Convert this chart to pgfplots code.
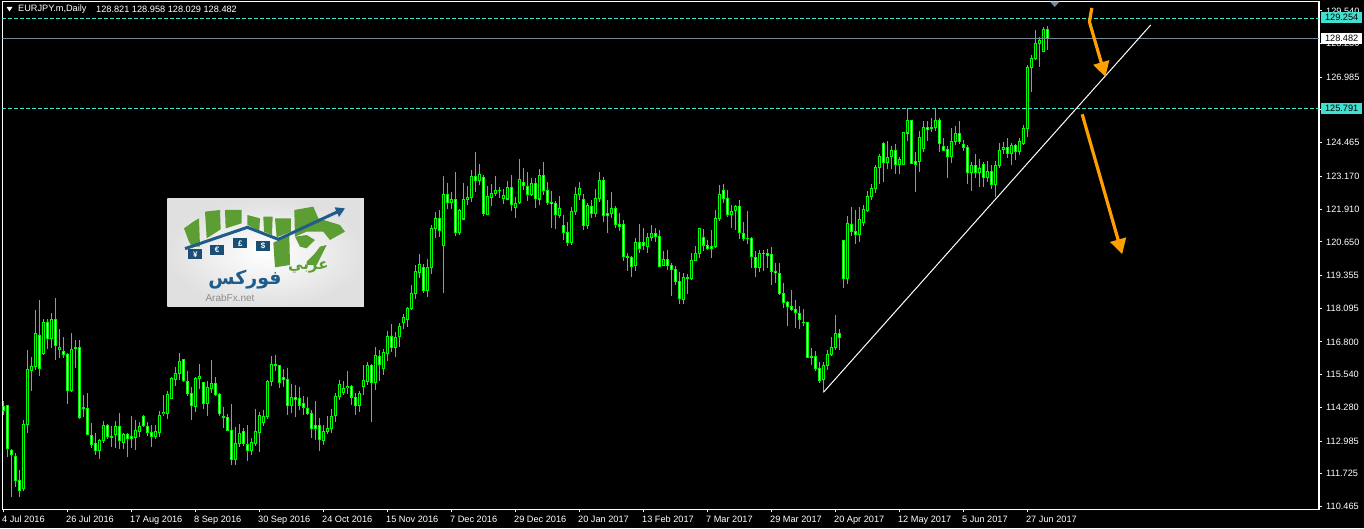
\documentclass[border=0pt]{standalone}
\usepackage{fontspec}
\usepackage{pgfplots}
\usepackage{pgfplotstable}
\pgfplotsset{compat=1.18}
\usetikzlibrary{arrows.meta}
\setmainfont{Liberation Sans}
\newfontfamily\arabicfont[Script=Arabic]{DejaVu Sans}
\TeXXeTstate=1

\definecolor{candle}{HTML}{00FF00}
\definecolor{tagc}{HTML}{40E0D0}
\definecolor{slate}{HTML}{778899}
\definecolor{arrowc}{HTML}{FFA000}
\definecolor{logogreen}{HTML}{5C9E33}
\definecolor{logoblue}{HTML}{1F5C8A}

% daily candles: i open high low close
\pgfplotstableread{
i o h l c
0 114.34 114.54 113.99 114.16
1 114.35 114.38 112.39 112.67
2 112.64 112.67 110.82 112.44
3 112.39 112.54 111.23 111.46
4 111.46 111.87 110.85 111.08
5 111.16 113.80 111.08 113.64
6 113.62 116.47 113.29 115.75
7 115.70 116.21 114.93 115.85
8 115.85 118.03 115.70 117.13
9 117.06 118.42 115.47 115.75
10 116.36 117.67 116.30 117.57
11 117.57 117.67 116.54 116.93
12 116.93 117.90 116.56 117.67
13 117.67 118.48 116.11 116.67
14 116.51 117.29 116.20 116.60
15 116.44 116.98 116.17 116.31
16 116.34 116.39 114.41 114.93
17 114.93 117.13 114.89 116.52
18 116.60 116.88 115.80 116.54
19 116.60 116.88 113.85 113.90
20 114.29 114.75 113.90 114.24
21 114.25 114.83 113.21 113.23
22 113.21 113.67 112.70 112.85
23 112.90 113.29 112.45 112.62
24 112.62 113.06 112.31 113.03
25 112.98 113.75 112.90 113.59
26 113.59 113.64 113.06 113.16
27 113.17 113.57 112.77 113.12
28 113.21 113.75 112.70 113.56
29 113.56 114.05 112.67 112.98
30 112.93 113.29 112.67 113.26
31 113.25 113.29 112.36 113.08
32 113.17 113.95 112.71 113.08
33 113.13 113.80 112.64 113.41
34 113.36 113.70 113.16 113.57
35 113.95 113.99 113.52 113.57
36 113.56 113.73 113.18 113.31
37 113.31 113.61 112.75 113.16
38 113.16 113.61 113.06 113.36
39 113.31 114.16 113.13 113.99
40 114.04 114.74 113.95 114.11
41 114.04 114.90 113.85 114.79
42 114.62 115.44 114.59 115.42
43 115.36 115.83 115.11 115.59
44 115.57 116.36 115.34 116.06
45 116.13 116.13 115.26 115.29
46 115.29 115.67 114.70 114.80
47 114.83 115.08 113.80 114.36
48 114.31 115.44 114.12 115.42
49 115.39 115.95 115.00 115.48
50 115.25 115.26 114.21 114.43
51 114.43 115.31 113.93 115.06
52 115.00 116.11 114.83 115.21
53 115.21 115.44 114.70 114.75
54 114.80 114.83 113.93 114.05
55 113.93 114.29 113.47 113.88
56 113.90 114.03 113.39 113.39
57 113.41 114.41 112.08 112.26
58 112.26 113.54 112.08 112.90
59 112.88 113.64 112.77 113.29
60 113.36 113.48 112.80 112.88
61 112.86 113.59 112.23 112.62
62 112.62 113.11 112.46 112.95
63 112.88 114.23 112.80 113.36
64 113.31 114.11 112.58 113.98
65 113.70 114.18 113.58 113.95
66 113.93 115.34 113.82 115.29
67 115.26 116.26 115.11 115.93
68 115.89 116.29 115.67 115.94
69 115.90 115.91 115.04 115.21
70 115.44 115.75 115.08 115.36
71 115.36 115.79 114.00 114.36
72 114.36 115.18 114.05 114.67
73 114.67 115.16 113.90 114.59
74 114.62 115.06 114.18 114.36
75 114.44 114.70 114.00 114.25
76 114.23 114.67 113.98 114.05
77 114.05 114.18 113.11 113.46
78 113.59 114.52 113.03 113.46
79 113.59 113.88 112.62 113.05
80 112.98 113.59 112.85 113.36
81 113.34 113.93 113.26 113.48
82 113.46 114.23 113.29 113.94
83 113.95 114.85 113.70 114.72
84 114.70 115.34 114.57 115.17
85 114.85 115.29 114.75 115.02
86 115.02 115.68 114.80 115.09
87 115.11 115.15 114.36 114.67
88 114.66 114.82 114.00 114.36
89 114.35 114.90 114.11 114.82
90 115.08 115.90 114.75 115.33
91 115.26 116.03 115.16 115.90
92 115.90 115.95 113.70 115.24
93 115.24 116.60 114.95 116.29
94 116.26 116.49 115.31 115.93
95 115.75 116.54 115.53 116.40
96 116.36 117.21 116.08 117.01
97 117.01 117.49 116.43 116.57
98 116.58 117.19 116.21 116.98
99 116.98 117.52 116.60 117.42
100 117.52 117.88 117.29 117.75
101 117.67 118.13 117.36 118.11
102 118.08 118.99 118.03 118.67
103 118.67 119.76 118.47 119.52
104 119.47 120.19 119.26 119.79
105 119.67 119.80 118.70 118.78
106 118.78 119.98 118.54 119.67
107 119.67 121.30 119.42 121.17
108 121.16 121.80 120.80 121.56
109 121.56 121.88 120.83 121.06
110 120.51 123.19 118.70 122.48
111 122.48 122.93 121.90 122.17
112 122.14 122.57 121.93 122.29
113 122.29 123.34 120.88 121.01
114 121.01 121.90 120.92 121.87
115 121.52 122.93 121.52 122.29
116 122.28 122.80 122.07 122.37
117 122.33 123.42 122.20 123.18
118 123.18 124.11 122.55 123.01
119 123.01 123.65 122.82 123.25
120 123.14 123.23 121.65 121.75
121 121.71 122.80 121.69 122.39
122 122.35 122.88 122.03 122.52
123 122.51 123.19 122.43 122.64
124 122.62 122.78 122.33 122.65
125 122.32 122.67 122.11 122.44
126 122.29 122.98 122.26 122.75
127 122.75 123.23 121.82 122.06
128 121.97 122.39 121.57 122.14
129 122.14 123.84 122.11 123.06
130 122.94 123.50 122.65 122.82
131 122.78 123.34 122.24 122.47
132 122.47 123.12 122.42 122.91
133 122.91 123.11 121.96 122.32
134 122.29 123.46 122.08 123.21
135 123.21 123.73 122.46 122.62
136 122.62 122.96 122.08 122.16
137 122.19 122.62 121.19 122.12
138 122.14 122.24 121.13 121.70
139 121.66 122.42 121.57 121.94
140 121.29 121.69 120.73 121.01
141 121.02 121.42 120.49 120.62
142 120.62 122.01 120.53 121.84
143 121.82 122.78 121.69 122.48
144 122.48 122.96 122.26 122.71
145 122.29 122.48 121.11 121.28
146 121.28 122.14 121.13 122.06
147 122.02 122.26 121.57 121.75
148 121.74 122.67 121.60 122.32
149 122.32 123.32 122.19 123.02
150 123.02 123.16 121.43 121.66
151 121.75 122.26 121.01 121.66
152 121.75 122.55 121.56 121.94
153 121.94 122.03 121.17 121.30
154 121.33 121.78 121.05 121.24
155 121.33 121.50 119.93 120.08
156 120.08 120.21 119.51 120.04
157 120.06 120.11 119.31 119.70
158 119.74 120.79 119.51 120.64
159 120.64 121.34 120.21 120.39
160 120.64 121.17 120.34 120.51
161 120.47 120.98 120.21 120.81
162 120.80 121.30 120.69 120.98
163 120.98 121.17 120.66 120.85
164 120.87 121.11 119.70 119.70
165 119.74 120.30 119.74 119.98
166 119.98 120.34 119.57 119.74
167 119.75 119.85 118.57 119.57
168 119.60 119.72 118.99 119.12
169 119.13 119.49 118.24 118.47
170 118.43 119.44 118.24 119.29
171 119.24 119.42 118.65 119.29
172 119.24 120.21 119.19 119.96
173 119.93 120.49 119.93 120.21
174 120.21 121.17 120.02 121.17
175 120.81 121.14 120.31 120.52
176 120.52 120.72 120.34 120.38
177 120.49 121.11 120.01 120.39
178 120.47 121.88 120.43 121.56
179 121.55 122.84 121.47 122.48
180 122.64 122.88 122.14 122.32
181 122.33 122.65 121.62 121.70
182 121.70 122.07 121.19 121.83
183 121.83 122.07 121.11 122.02
184 122.02 122.26 120.76 121.01
185 120.98 121.43 120.70 120.78
186 120.80 121.84 120.57 120.76
187 120.80 120.83 119.65 120.06
188 120.06 120.30 119.31 119.67
189 119.66 120.34 119.49 120.21
190 120.21 120.34 119.51 120.19
191 120.21 120.38 119.66 120.12
192 120.17 120.44 118.99 119.51
193 119.52 119.83 119.06 119.45
194 119.44 119.83 118.62 118.66
195 118.67 119.06 118.12 118.31
196 118.34 118.36 117.42 118.16
197 118.19 118.80 117.98 118.03
198 118.07 118.42 117.35 117.93
199 117.90 118.19 117.31 117.65
200 117.57 118.06 117.42 117.53
201 117.56 117.56 116.20 116.20
202 116.26 116.56 115.91 116.20
203 116.25 116.44 115.68 115.76
204 115.79 116.03 115.21 115.31
205 115.34 116.03 114.86 115.92
206 115.88 116.49 115.72 116.33
207 116.29 116.98 116.24 116.59
208 116.56 117.84 116.49 117.13
209 117.13 117.30 116.47 116.97
210 120.71 120.71 118.88 119.24
211 119.24 121.65 119.03 121.37
212 121.33 122.00 120.88 121.03
213 121.06 121.88 120.57 120.93
214 120.93 121.98 120.65 121.52
215 121.39 122.06 121.26 121.91
216 121.85 122.59 121.80 122.39
217 122.39 122.88 122.26 122.70
218 122.70 123.62 122.53 123.52
219 123.50 124.03 122.88 123.96
220 124.44 124.50 122.96 123.71
221 123.70 124.52 123.46 123.91
222 123.91 124.34 123.46 124.16
223 124.16 124.41 123.26 123.62
224 123.62 123.93 123.26 123.83
225 123.62 124.87 123.62 124.87
226 124.83 125.79 124.55 125.33
227 125.33 125.34 123.64 123.65
228 123.75 124.11 122.55 123.62
229 123.74 124.91 123.35 124.68
230 124.24 125.29 124.10 125.06
231 125.06 125.29 124.55 124.96
232 125.01 125.41 124.89 125.06
233 125.04 125.79 124.93 125.33
234 125.33 125.41 124.12 124.44
235 124.33 124.66 124.14 124.16
236 124.21 124.32 123.12 123.93
237 123.93 125.04 123.70 124.52
238 124.50 125.09 124.38 124.83
239 124.83 125.29 124.42 124.52
240 124.41 124.57 124.16 124.28
241 124.29 124.37 122.88 123.32
242 123.32 123.71 122.62 123.60
243 123.60 124.02 123.11 123.32
244 123.32 123.83 122.78 123.48
245 123.62 123.74 122.75 123.12
246 123.12 123.76 122.94 123.37
247 123.37 123.61 122.67 122.85
248 122.85 123.76 122.39 123.60
249 123.59 124.44 123.50 124.18
250 124.20 124.50 124.02 124.29
251 124.29 124.64 123.89 124.05
252 124.03 124.44 123.62 124.37
253 124.37 124.41 123.80 124.12
254 124.12 124.64 124.00 124.52
255 124.42 125.14 124.36 125.02
256 125.02 127.46 124.70 127.37
257 127.36 127.84 126.43 127.71
258 127.69 128.81 127.65 128.29
259 128.27 128.55 127.39 128.42
260 127.97 128.91 127.95 128.83
261 128.821 128.958 128.029 128.482
}\bars

\begin{document}
\begin{tikzpicture}[x=1pt,y=1pt]
\fill[black] (0,0) rectangle (1364,528);
\useasboundingbox (0,0) rectangle (1364,528);

\begin{axis}[
    at={(2.3pt,19pt)}, anchor=south west,
    scale only axis,
    width=1316.7pt, height=507.5pt,
    xmin=-0.3, xmax=328.9,
    ymin=110.37, ymax=129.90,
    axis line style={white,line width=1pt},
    tick style={white,line width=1pt},
    major tick length=3pt,
    tick align=outside,
    ytick pos=right, xtick pos=bottom,
    yticklabel pos=right,
    clip mode=individual,
    xtick={0,16,...,256},
    xticklabels={4 Jul 2016,26 Jul 2016,17 Aug 2016,8 Sep 2016,30 Sep 2016,24 Oct 2016,15 Nov 2016,7 Dec 2016,29 Dec 2016,20 Jan 2017,13 Feb 2017,7 Mar 2017,29 Mar 2017,20 Apr 2017,12 May 2017,5 Jun 2017,27 Jun 2017},
    ytick={129.540,128.280,126.985,125.725,124.465,123.170,121.910,120.650,119.355,118.095,116.800,115.540,114.280,112.985,111.725,110.465},
    ticklabel style={white,font=\fontsize{9.2}{11}\selectfont},
    x tick label style={anchor=north west,xshift=-2.5pt,yshift=-2.5pt,inner sep=1pt},
    y tick label style={anchor=west,inner sep=1pt,xshift=3pt,
      /pgf/number format/.cd,fixed,fixed zerofill,precision=3,assume math mode=true},
    scaled ticks=false,
  ]
  % wicks
  \addplot[draw=none,forget plot,error bars/.cd,y dir=minus,y explicit,error mark=none,
    error bar style={draw=candle,line width=1pt}]
    table[x=i,y=h,y error minus expr=\thisrow{h}-\thisrow{l}] {\bars};
  % bodies
  \addplot[draw=none,forget plot,error bars/.cd,y dir=minus,y explicit,error mark=none,
    error bar style={draw=candle,line width=3pt}]
    table[x=i,y expr={max(\thisrow{o},\thisrow{c})+0.01},
      y error minus expr={abs(\thisrow{o}-\thisrow{c})+0.02}] {\bars};
  % centre of a falling candle is white
  \addplot[draw=none,forget plot,error bars/.cd,y dir=minus,y explicit,error mark=none,
    error bar style={draw=white,line width=1pt}]
    table[x=i,y expr={\thisrow{o}-0.03},
      y error minus expr={max(\thisrow{o}-\thisrow{c}-0.06,0)}] {\bars};
  % centre of a rising candle is black
  \addplot[draw=none,forget plot,error bars/.cd,y dir=minus,y explicit,error mark=none,
    error bar style={draw=black,line width=1pt}]
    table[x=i,y expr={\thisrow{c}-0.03},
      y error minus expr={max(\thisrow{c}-\thisrow{o}-0.06,0)}] {\bars};

  % levels
  \addplot[tagc,line width=1pt,dash pattern=on 3.4pt off 2.6pt] coordinates {(-0.3,129.254) (328.9,129.254)};
  \addplot[tagc,line width=1pt,dash pattern=on 3.4pt off 2.6pt] coordinates {(-0.3,125.791) (328.9,125.791)};
  \addplot[slate,line width=1pt] coordinates {(-0.3,128.482) (328.9,128.482)};
  % trend line
  \addplot[white,line width=1pt] coordinates {(205,114.86) (286.85,129.0)};
  % arrows
  \addplot[arrowc,line width=3.2pt,-{Triangle[length=15pt,width=16pt]}]
    coordinates {(272.1,129.65) (271.5,129.12) (275.5,127.0)};
  \addplot[arrowc,line width=3.2pt,-{Triangle[length=15pt,width=16pt]}]
    coordinates {(269.7,125.56) (279.7,120.18)};
\end{axis}

% price tags over the scale
\tikzset{tag/.style={minimum width=41pt,minimum height=11pt,inner sep=0pt,text=black,
  font=\fontsize{9.2}{11}\selectfont,anchor=west}}
\node[tag,fill=tagc] at (1321,510.3) {129.254};
\node[tag,fill=white] at (1321,489.7) {128.482};
\node[tag,fill=tagc] at (1321,419.7) {125.791};

% header
\fill[white] (6.5,521) -- (12.5,521) -- (9.5,516.5) -- cycle;
\node[anchor=west,inner sep=0pt,white,font=\fontsize{9.2}{11}\selectfont] at (18,518.5) {EURJPY.m,Daily};
\node[anchor=west,inner sep=0pt,white,font=\fontsize{9.2}{11}\selectfont] at (96,518.5) {128.821 128.958 128.029 128.482};
\fill[slate] (1050,526.3) -- (1059.5,526.3) -- (1054.7,521) -- cycle;

% logo, in its own coordinates
\begin{scope}[shift={(160,338)},x=0.3333pt,y=-0.3333pt]
  \shade[inner color=white,outer color=black!12] (22,27) rectangle (612,351);
  \fill[logogreen] (72,115) -- (100,95) -- (117,85) -- (120,170) -- (95,170) -- (85,150) -- cycle;
  \fill[logogreen] (135,65) -- (180,60) -- (182,118) -- (140,145) -- cycle;
  \fill[logogreen] (195,60) -- (245,60) -- (245,100) -- (197,115) -- cycle;
  \fill[logogreen] (262,75) -- (300,85) -- (298,122) -- (262,105) -- cycle;
  \fill[logogreen] (310,80) -- (338,80) -- (336,135) -- (312,125) -- cycle;
  \fill[logogreen] (345,85) -- (393,85) -- (393,125) -- (350,142) -- cycle;
  \fill[logogreen] (340,158) -- (388,135) -- (390,225) -- (345,232) -- cycle;
  \fill[logogreen] (403,60) -- (460,50) -- (475,85) -- (540,105) -- (555,125) -- (510,150) -- (490,125) -- (440,125) -- (405,140) -- cycle;
  \fill[logogreen] (405,140) -- (440,135) -- (465,150) -- (440,175) -- (420,170) -- cycle;
  \fill[logogreen] (440,215) -- (465,190) -- (480,170) -- (500,165) -- (470,225) -- (440,225) -- cycle;
  \draw[logoblue,line width=3pt,-{Triangle[length=9pt,width=10pt]}] (75,176) -- (262,112) -- (355,148) -- (555,55);
  \foreach \a/\b/\s in {85/178/¥,150/165/€,220/145/£,288/152/\$} {
    \fill[logoblue!85!black] (\a,\b) rectangle ++(42,30);
    \node[white,font=\bfseries\fontsize{8}{8}\selectfont] at (\a+21,\b+15) {\s};
  }
  \node[logoblue,font=\arabicfont\bfseries\fontsize{19}{20}\selectfont] at (255,268) {\beginR فوركس\endR};
  \node[logogreen,font=\arabicfont\bfseries\fontsize{15}{16}\selectfont] at (445,232) {\beginR عربي\endR};
  \node[black!45,font=\fontsize{10}{11}\selectfont] at (210,325) {ArabFx.net};
\end{scope}
\end{tikzpicture}
\end{document}
